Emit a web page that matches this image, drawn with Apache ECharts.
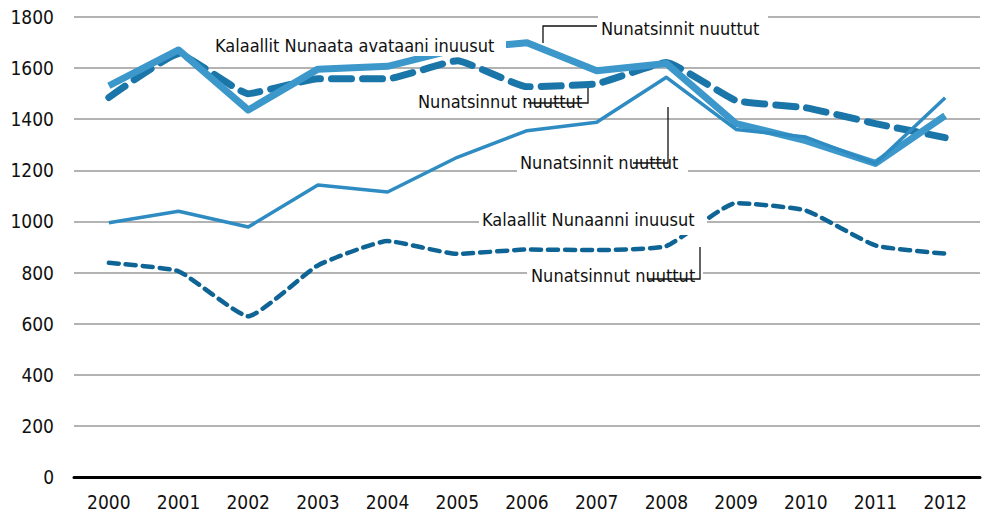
<!DOCTYPE html>
<html>
<head>
<meta charset="utf-8">
<script src="https://cdn.jsdelivr.net/npm/echarts@6/dist/echarts.min.js"></script>
<style>
  html, body { margin: 0; padding: 0; background: #fff; }
  #chart { width: 989px; height: 515px; }
</style>
</head>
<body>
<div id="chart"></div>
<script>
// years on the x axis
const years = ['2000', '2001', '2002', '2003', '2004', '2005', '2006',
               '2007', '2008', '2009', '2010', '2011', '2012'];

// born outside Greenland (thick lines)
const outsideOut = [1531, 1671, 1436, 1596, 1607, 1675, 1699, 1590, 1618, 1383, 1316, 1227, 1414];
const outsideIn  = [1485, 1656, 1500, 1558, 1558, 1629, 1527, 1539, 1622, 1473, 1445, 1383, 1328];

// born in Greenland (thin lines)
const insideOut = [995, 1040, 978, 1143, 1115, 1251, 1355, 1388, 1564, 1360, 1330, 1227, 1484];
const insideIn  = [838, 805, 629, 828, 923, 873, 890, 888, 904, 1072, 1043, 906, 874];

const yTicks = { min: 0, max: 1800, step: 200 };

const FONT = '"Liberation Sans Narrow", "DejaVu Sans Condensed", "Noto Sans", sans-serif';

const chart = echarts.init(document.getElementById('chart'), null, { renderer: 'svg' });

/* --- text boxes with white backing + leader lines --- */
function label(text, x, y, box) {
  return [
    { type: 'rect', z: 100, silent: true,
      shape: { x: box[0], y: box[1], width: box[2] - box[0], height: box[3] - box[1] },
      style: { fill: '#fff' } },
    { type: 'text', z: 101, silent: true, x: x, y: y,
      style: { text: text, fill: '#111', font: '18px ' + FONT, textVerticalAlign: 'middle' } }
  ];
}
function leader(points) {
  return { type: 'polyline', z: 102, silent: true,
    shape: { points: points },
    style: { stroke: '#111', lineWidth: 1.3, fill: null } };
}

const graphics = [].concat(
  label('Kalaallit Nunaata avataani inuusut', 215, 45, [210, 33, 506, 56]),
  label('Nunatsinnit nuuttut', 601, 28, [598, 10, 768, 43]),
  label('Nunatsinnut nuuttut', 418, 101, [414, 90, 585, 112]),
  label('Nunatsinnit nuuttut', 520, 162, [517, 149, 688, 176]),
  label('Kalaallit Nunaanni inuusut', 482, 219, [479, 205, 707, 235]),
  label('Nunatsinnut nuuttut', 531, 275, [527, 262, 703, 289]),
  [
    leader([[543, 43], [543, 26], [597, 26]]),
    leader([[528, 103], [588, 103], [588, 88]]),
    leader([[633, 163], [668, 163], [668, 107]]),
    leader([[647, 279], [700, 279], [700, 247]])
  ]
);

const option = {
  backgroundColor: '#fff',
  animation: false,
  grid: { left: 74, right: 9, top: 17, bottom: 38 },
  xAxis: {
    type: 'category',
    data: years,
    boundaryGap: true,
    axisLine: { lineStyle: { color: '#000', width: 3 } },
    axisTick: { show: false },
    axisLabel: { color: '#111', fontSize: 19, fontFamily: FONT, margin: 15 }
  },
  yAxis: {
    type: 'value',
    min: yTicks.min,
    max: yTicks.max,
    interval: yTicks.step,
    axisLine: { show: false },
    axisTick: { show: false },
    axisLabel: { color: '#111', fontSize: 19, fontFamily: FONT, margin: 20,
                 formatter: v => String(v) },
    splitLine: { lineStyle: { color: '#9a9a9a', width: 1.5 } }
  },
  series: [
    {
      name: 'Nunatsinnut nuuttut (avataani)',
      type: 'line', data: outsideIn, symbol: 'none', smooth: 0.12,
      lineStyle: { color: '#1a75a8', width: 7, type: [20, 11], cap: 'round' }
    },
    {
      name: 'Nunatsinnit nuuttut (avataani)',
      type: 'line', data: outsideOut, symbol: 'none',
      lineStyle: { color: '#3c97cb', width: 7, join: 'round' }
    },
    {
      name: 'Nunatsinnit nuuttut (Nunaanni)',
      type: 'line', data: insideOut, symbol: 'none',
      lineStyle: { color: '#2e8cc2', width: 3.5, join: 'round' }
    },
    {
      name: 'Nunatsinnut nuuttut (Nunaanni)',
      type: 'line', data: insideIn, symbol: 'none', smooth: 0.15,
      lineStyle: { color: '#0f6496', width: 4.5, type: [10, 7], cap: 'round' }
    }
  ],
  graphic: graphics
};

chart.setOption(option);
</script>
</body>
</html>
